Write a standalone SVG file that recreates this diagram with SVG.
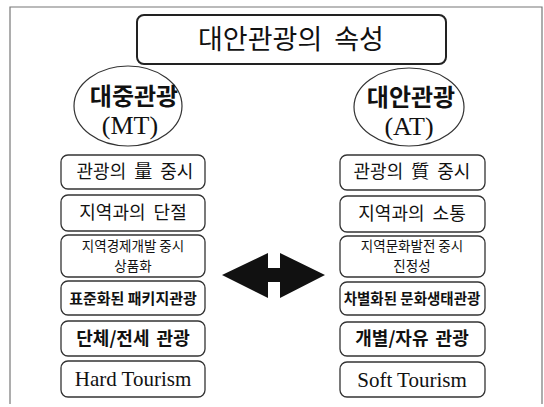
<svg xmlns="http://www.w3.org/2000/svg" width="544" height="407" viewBox="0 0 544 407">
<style>
.frame{fill:none;stroke:#777;stroke-width:1.2}
.box{fill:#fff;stroke:#333;stroke-width:1.3}
.ell{fill:#fff;stroke:#333;stroke-width:1.2}
.ko{font-family:"Noto Sans CJK KR","Noto Sans",sans-serif;fill:#111;text-anchor:middle}
.en{font-family:"Liberation Serif",serif;fill:#111;text-anchor:middle}
</style>
<rect width="544" height="407" fill="#fff"/>
<path class="frame" d="M10,404 V7 H542 V404"/>
<g id="title">
<rect x="137" y="15" width="309" height="49" rx="7" fill="#fff" stroke="#222" stroke-width="2"/>
<text class="ko" x="291" y="49" font-size="27" word-spacing="6">대안관광의 속성</text>
</g>
<g id="mt">
<ellipse class="ell" cx="128" cy="106" rx="54" ry="40"/>
<text class="ko" x="134" y="105" font-size="24" font-weight="bold">대중관광</text>
<text class="en" x="130" y="134" font-size="26">(MT)</text>
</g>
<g id="at">
<ellipse class="ell" cx="409" cy="107" rx="55" ry="39"/>
<text class="ko" x="411" y="106" font-size="24" font-weight="bold">대안관광</text>
<text class="en" x="409" y="135" font-size="26">(AT)</text>
</g>
<g id="l1"><rect class="box" x="61" y="155" width="144" height="34" rx="7"/><text class="ko" x="135" y="178" font-size="18" word-spacing="4">관광의 量 중시</text></g>
<g id="l2"><rect class="box" x="61" y="195" width="144" height="36" rx="7"/><text class="ko" x="133" y="219" font-size="18" word-spacing="4">지역과의 단절</text></g>
<g id="l3"><rect class="box" x="61" y="235" width="144" height="42" rx="7"/><text class="ko" x="133" y="251" font-size="13.5">지역경제개발 중시</text><text class="ko" x="133" y="271" font-size="13.5">상품화</text></g>
<g id="l4"><rect class="box" x="61" y="281" width="144" height="34" rx="7"/><text class="ko" x="133" y="304" font-size="15" font-weight="bold">표준화된 패키지관광</text></g>
<g id="l5"><rect class="box" x="61" y="321" width="144" height="35" rx="7"/><text class="ko" x="133" y="345" font-size="18" font-weight="bold" word-spacing="3">단체/전세 관광</text></g>
<g id="l6"><rect class="box" x="61" y="361" width="144" height="36" rx="7"/><text class="en" x="133" y="386" font-size="21">Hard Tourism</text></g>
<g id="r1"><rect class="box" x="340" y="155" width="145" height="35" rx="7"/><text class="ko" x="412" y="178" font-size="18" word-spacing="4">관광의 質 중시</text></g>
<g id="r2"><rect class="box" x="340" y="196" width="145" height="36" rx="7"/><text class="ko" x="412" y="220" font-size="18" word-spacing="4">지역과의 소통</text></g>
<g id="r3"><rect class="box" x="340" y="236" width="145" height="41" rx="7"/><text class="ko" x="412" y="251" font-size="13.5">지역문화발전 중시</text><text class="ko" x="412" y="271" font-size="13.5">진정성</text></g>
<g id="r4"><rect class="box" x="340" y="282" width="145" height="33" rx="7"/><text class="ko" x="412" y="304" font-size="14.5" font-weight="bold">차별화된 문화생태관광</text></g>
<g id="r5"><rect class="box" x="340" y="322" width="145" height="34" rx="7"/><text class="ko" x="412" y="345" font-size="18" font-weight="bold" word-spacing="3">개별/자유 관광</text></g>
<g id="r6"><rect class="box" x="340" y="362" width="145" height="35" rx="7"/><text class="en" x="412" y="387" font-size="21">Soft Tourism</text></g>
<g id="connectors">
<path d="M222,275 L268,253 V268 H280 V253 L325,275 L280,298 V282 H268 V298 Z" fill="#111"/>
</g>
</svg>
